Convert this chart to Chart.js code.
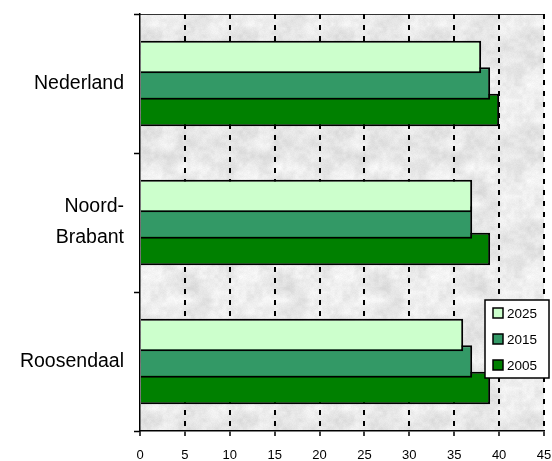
<!DOCTYPE html>
<html>
<head>
<meta charset="utf-8">
<script src="https://cdn.jsdelivr.net/npm/chart.js@4/dist/chart.umd.min.js"></script>
<style>
  html, body { margin: 0; padding: 0; background: #ffffff; }
  #wrap { width: 552px; height: 461px; position: relative; }
</style>
</head>
<body>
<div id="wrap"><canvas id="chart" width="552" height="461"></canvas></div>
<script>
// Regions (top to bottom) and the three forecast years
const categories = ['Nederland', ['Noord-', 'Brabant'], 'Roosendaal'];
const years = ['2025', '2015', '2005'];
const values2025 = [38, 37, 36];
const values2015 = [39, 37, 37];
const values2005 = [40, 39, 39];
const xTicks = { min: 0, max: 45, step: 5 };

const fills = ['#CCFFCC', '#339966', '#008000'];
const seriesValues = [values2025, values2015, values2005];

// Fixed axis sizes; label overhang handled by layout padding instead
function fixSize(prop, size) {
  return (scale) => {
    scale[prop] = size;
    scale.paddingTop = 0;
    scale.paddingBottom = 0;
    scale.paddingLeft = 0;
    scale.paddingRight = 0;
  };
}

// Light grey stone-like tile for the plot area (deterministic hash shading)
function stoneTile() {
  const size = 96;
  const c = document.createElement('canvas');
  c.width = size; c.height = size;
  const g = c.getContext('2d');
  const img = g.createImageData(size, size);
  const hash = (x, y) => {
    const s = Math.sin(x * 127.1 + y * 311.7) * 43758.5453;
    return s - Math.floor(s);
  };
  const smooth = (x, y, cell) => {
    const gx = Math.floor(x / cell), gy = Math.floor(y / cell);
    const fx = (x % cell) / cell, fy = (y % cell) / cell;
    const n = size / cell;
    const h = (i, j) => hash(((i % n) + n) % n, ((j % n) + n) % n);
    const a = h(gx, gy), b = h(gx + 1, gy), d = h(gx, gy + 1), e = h(gx + 1, gy + 1);
    const ux = fx * fx * (3 - 2 * fx), uy = fy * fy * (3 - 2 * fy);
    return (a * (1 - ux) + b * ux) * (1 - uy) + (d * (1 - ux) + e * ux) * uy;
  };
  for (let y = 0; y < size; y++) {
    for (let x = 0; x < size; x++) {
      const v = 0.55 * smooth(x, y, 12) + 0.3 * smooth(x, y, 4) + 0.15 * hash(x + 0.5, y + 0.5);
      const level = Math.round(212 + v * 42);
      const k = (y * size + x) * 4;
      img.data[k] = level; img.data[k + 1] = level; img.data[k + 2] = level; img.data[k + 3] = 255;
    }
  }
  g.putImageData(img, 0, 0);
  return c;
}

// Plot-area fill with a thin top edge
const plotBackground = {
  id: 'plotBackground',
  beforeDraw(chart) {
    const { ctx, chartArea: a } = chart;
    ctx.save();
    ctx.fillStyle = ctx.createPattern(stoneTile(), 'repeat');
    ctx.fillRect(a.left, a.top, a.right - a.left, a.bottom - a.top);
    ctx.strokeStyle = '#333';
    ctx.lineWidth = 1;
    ctx.beginPath();
    ctx.moveTo(a.left, a.top + 0.5);
    ctx.lineTo(a.right, a.top + 0.5);
    ctx.stroke();
    ctx.restore();
  }
};

// Boxed legend sitting inside the lower right of the plot
const boxLegend = {
  id: 'boxLegend',
  afterDraw(chart) {
    const { ctx } = chart;
    const x = 485, y = 300, w = 64, h = 78;
    ctx.save();
    ctx.fillStyle = '#ffffff';
    ctx.fillRect(x, y, w, h);
    ctx.strokeStyle = '#000';
    ctx.lineWidth = 1.5;
    ctx.strokeRect(x, y, w, h);
    ctx.font = '13.5px "Liberation Sans", Arial, sans-serif';
    ctx.textBaseline = 'middle';
    chart.data.datasets.forEach((ds, i) => {
      const cy = y + 13 + i * 26;
      ctx.fillStyle = ds.backgroundColor;
      ctx.fillRect(x + 8, cy - 5, 10, 10);
      ctx.lineWidth = 1.5;
      ctx.strokeStyle = '#000';
      ctx.strokeRect(x + 8, cy - 5, 10, 10);
      ctx.fillStyle = '#000';
      ctx.fillText(ds.label, x + 22, cy + 1);
    });
    ctx.restore();
  }
};

new Chart(document.getElementById('chart'), {
  type: 'bar',
  data: {
    labels: categories,
    datasets: years.map((yr, i) => ({
      label: yr,
      data: seriesValues[i],
      backgroundColor: fills[i],
      borderColor: '#000',
      borderWidth: 2,
      borderSkipped: 'start',
      categoryPercentage: 0.572,
      barPercentage: 1.226
    }))
  },
  options: {
    indexAxis: 'y',
    responsive: false,
    animation: false,
    layout: { padding: { top: 14, right: 8, left: 0, bottom: 0 } },
    plugins: { legend: { display: false }, tooltip: { enabled: false } },
    scales: {
      x: {
        min: xTicks.min,
        max: xTicks.max,
        afterFit: fixSize('height', 30),
        ticks: {
          stepSize: xTicks.step,
          color: '#000',
          padding: 12,
          font: { family: '"Liberation Sans", Arial, sans-serif', size: 13 }
        },
        grid: {
          color: (c) => (c.tick && c.tick.value === 0 ? 'rgba(0,0,0,0)' : '#000'),
          lineWidth: 2,
          tickColor: '#000',
          tickWidth: 1.5,
          tickLength: 5
        },
        border: { display: true, color: '#000', width: 1.5, dash: [5, 6] }
      },
      y: {
        afterFit: fixSize('width', 140),
        ticks: {
          color: '#000',
          padding: 10,
          font: { family: '"Liberation Sans", Arial, sans-serif', size: 19.5, lineHeight: 1.6 }
        },
        grid: {
          drawOnChartArea: false,
          drawTicks: true,
          tickLength: 6,
          tickColor: '#000',
          tickWidth: 1.5,
          offset: true
        },
        border: { display: true, color: '#000', width: 1.5 }
      }
    }
  },
  plugins: [plotBackground, boxLegend]
});
</script>
</body>
</html>
